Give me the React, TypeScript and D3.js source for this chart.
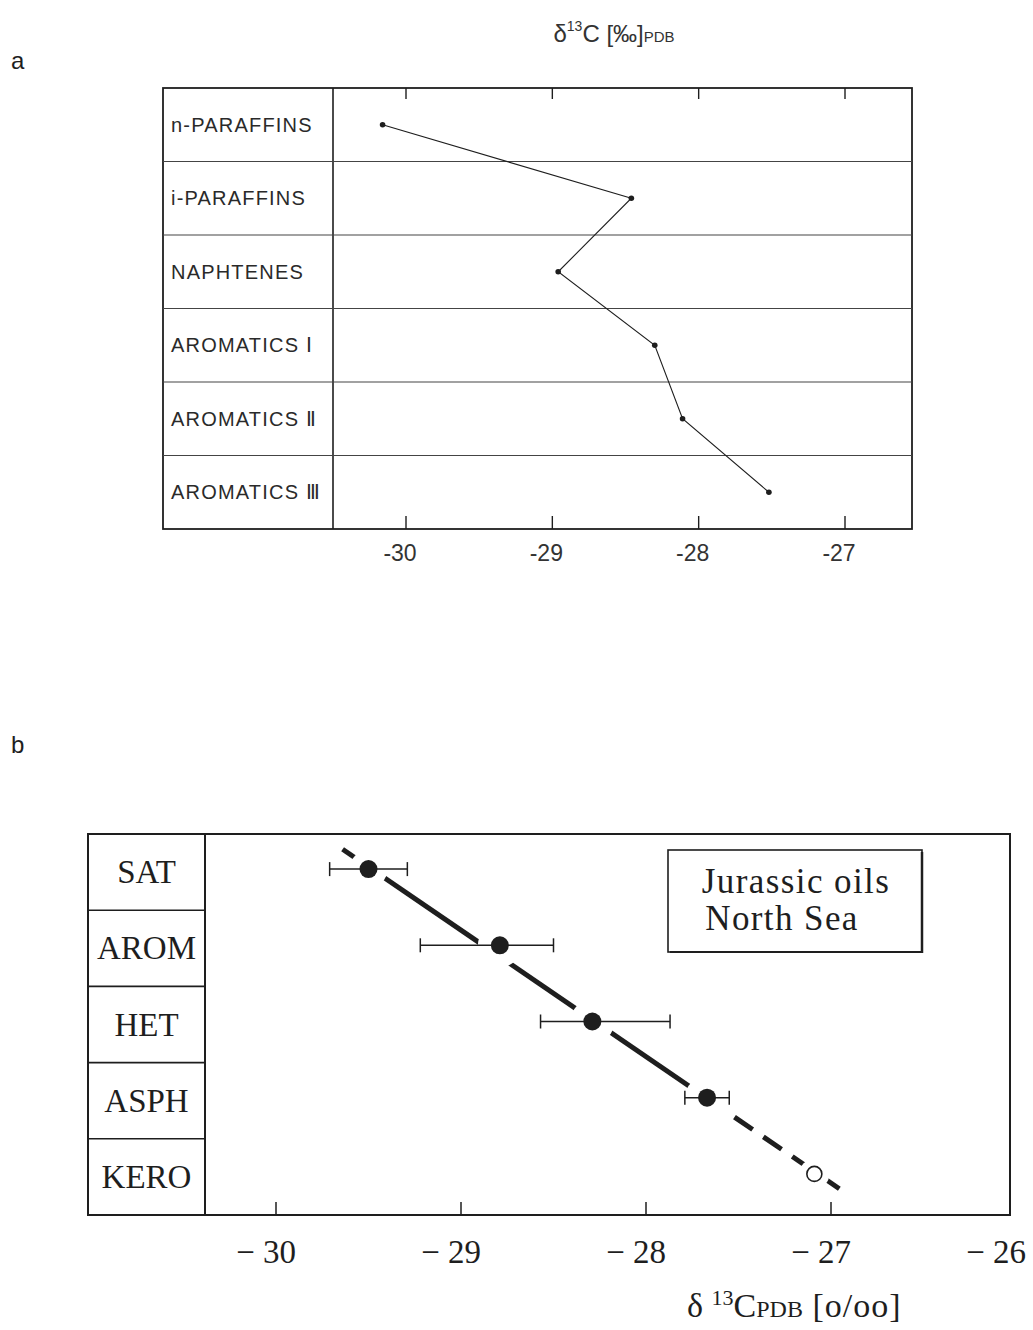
import React from 'react'
import * as d3 from 'd3'

// panel a: isotope composition of the oil fractions
const fractionsA = ['n-PARAFFINS', 'i-PARAFFINS', 'NAPHTENES', 'AROMATICS Ⅰ', 'AROMATICS Ⅱ', 'AROMATICS Ⅲ']
const deltaA = [-30.16, -28.46, -28.96, -28.3, -28.11, -27.52]
const ticksA = [-30, -29, -28, -27]

// panel b: Jurassic oils, North Sea
const fractionsB = ['SAT', 'AROM', 'HET', 'ASPH', 'KERO']
const meanB = [-29.5, -28.79, -28.29, -27.67, -27.09]
const lowB = [-29.71, -29.22, -28.57, -27.79, null]
const highB = [-29.29, -28.5, -27.87, -27.55, null]
const ticksB = [-30, -29, -28, -27, -26]
// trend line: start / end in delta, position in row units (0 = first row centre)
const trendDelta = [-29.64, -26.94]
const trendRow = [-0.3, 4.18]
const solidUntilRow = 3 // dashed after ASPH

const INK = '#1e1e1e'

function PanelA() {
  const left = 163, split = 333, right = 912, top = 88, bottom = 529
  const x = d3.scaleLinear().domain([-30, -27]).range([406, 845])
  const y = d3.scaleBand().domain(fractionsA).range([top, bottom])
  const line = d3
    .line<number>()
    .x(d => x(d))
    .y((d, i) => y(fractionsA[i])! + y.bandwidth() / 2)

  return (
    <g>
      <text x={11} y={69} fontFamily="Liberation Sans" fontSize={24} fill={INK}>a</text>
      <text x={614} y={42} textAnchor="middle" fontFamily="Liberation Sans" fontSize={24} fill="#333">
        δ<tspan fontSize={14} dy={-11}>13</tspan>
        <tspan dy={11}>C [‰]</tspan>
        <tspan fontSize={15}>PDB</tspan>
      </text>
      <rect x={left} y={top} width={right - left} height={bottom - top} fill="none" stroke={INK} strokeWidth={1.8} />
      <line x1={split} x2={split} y1={top} y2={bottom} stroke={INK} strokeWidth={1.6} />
      {fractionsA.slice(1).map(f => (
        <line key={f} x1={left} x2={right} y1={y(f)} y2={y(f)} stroke="#444" strokeWidth={1.1} />
      ))}
      {fractionsA.map(f => (
        <text
          key={f}
          x={171}
          y={y(f)! + y.bandwidth() / 2 + 7}
          fontFamily="Liberation Sans"
          fontSize={20}
          letterSpacing={1.2}
          fill="#2a2a2a"
        >
          {f}
        </text>
      ))}
      {ticksA.map(t => (
        <g key={t}>
          <line x1={x(t)} x2={x(t)} y1={top} y2={top + 11} stroke={INK} strokeWidth={1.4} />
          <line x1={x(t)} x2={x(t)} y1={bottom} y2={bottom - 13} stroke={INK} strokeWidth={1.4} />
          <text x={x(t) - 6} y={561} textAnchor="middle" fontFamily="Liberation Sans" fontSize={23} fill="#333">
            {'-' + Math.abs(t)}
          </text>
        </g>
      ))}
      <path d={line(deltaA) ?? ''} fill="none" stroke={INK} strokeWidth={1.1} />
      {deltaA.map((d, i) => (
        <circle key={i} cx={x(d)} cy={y(fractionsA[i])! + y.bandwidth() / 2} r={2.8} fill={INK} />
      ))}
    </g>
  )
}

function PanelB() {
  const left = 88, split = 205, right = 1010, top = 834, bottom = 1215
  const x = d3.scaleLinear().domain([-30, -26]).range([276, 1016])
  const y = d3.scaleBand().domain(fractionsB).range([top, bottom])
  const rowY = (r: number) => y(fractionsB[0])! + y.bandwidth() / 2 + r * y.bandwidth()
  const trendAt = (r: number) =>
    trendDelta[0] + ((r - trendRow[0]) / (trendRow[1] - trendRow[0])) * (trendDelta[1] - trendDelta[0])
  const cy = (i: number) => rowY(i) - 3

  return (
    <g>
      <text x={11} y={753} fontFamily="Liberation Sans" fontSize={24} fill={INK}>b</text>
      <rect x={left} y={top} width={right - left} height={bottom - top} fill="none" stroke={INK} strokeWidth={2} />
      <line x1={split} x2={split} y1={top} y2={bottom} stroke={INK} strokeWidth={2} />
      {fractionsB.slice(1).map(f => (
        <line key={f} x1={left} x2={split} y1={y(f)} y2={y(f)} stroke={INK} strokeWidth={1.6} />
      ))}
      {fractionsB.map(f => (
        <text
          key={f}
          x={(left + split) / 2}
          y={y(f)! + y.bandwidth() / 2 + 11}
          textAnchor="middle"
          fontFamily="Liberation Serif"
          fontSize={33}
          fill={INK}
        >
          {f}
        </text>
      ))}
      {ticksB.map(t => (
        <g key={t}>
          {x(t) < right && <line x1={x(t)} x2={x(t)} y1={bottom} y2={bottom - 13} stroke={INK} strokeWidth={1.5} />}
          <text
            x={Math.min(x(t) + 20, 1026)}
            y={1263}
            textAnchor="end"
            fontFamily="Liberation Serif"
            fontSize={33}
            fill={INK}
          >
            {'− ' + Math.abs(t)}
          </text>
        </g>
      ))}
      {/* trend line, solid then dashed */}
      <line
        x1={x(trendDelta[0])}
        y1={rowY(trendRow[0])}
        x2={x(trendAt(solidUntilRow))}
        y2={rowY(solidUntilRow)}
        stroke={INK}
        strokeWidth={5}
      />
      <line
        x1={x(trendAt(solidUntilRow))}
        y1={rowY(solidUntilRow)}
        x2={x(trendDelta[1])}
        y2={rowY(trendRow[1])}
        stroke={INK}
        strokeWidth={5}
        strokeDasharray="22,13"
        strokeDashoffset={6}
      />
      {/* white gaps around the points */}
      {meanB.map((m, i) => (
        <circle key={'h' + i} cx={x(m)} cy={cy(i)} r={i === 4 ? 15 : i === 0 ? 19 : 22} fill="#fff" />
      ))}
      {meanB.map((m, i) =>
        lowB[i] === null ? null : (
          <g key={'e' + i} stroke={INK} strokeWidth={1.5}>
            <line x1={x(lowB[i]!)} x2={x(highB[i]!)} y1={cy(i)} y2={cy(i)} />
            <line x1={x(lowB[i]!)} x2={x(lowB[i]!)} y1={cy(i) - 7} y2={cy(i) + 7} />
            <line x1={x(highB[i]!)} x2={x(highB[i]!)} y1={cy(i) - 7} y2={cy(i) + 7} />
          </g>
        )
      )}
      {meanB.map((m, i) =>
        i === 4 ? (
          <circle key={'p' + i} cx={x(m)} cy={cy(i)} r={7.5} fill="#fff" stroke={INK} strokeWidth={1.6} />
        ) : (
          <circle key={'p' + i} cx={x(m)} cy={cy(i)} r={9} fill={INK} />
        )
      )}
      {/* legend */}
      <rect x={668} y={850} width={254} height={102} fill="#fff" stroke={INK} strokeWidth={1.6} />
      <line x1={922} x2={922} y1={852} y2={953} stroke={INK} strokeWidth={2.5} />
      <line x1={670} x2={923} y1={952} y2={952} stroke={INK} strokeWidth={2.2} />
      <text x={796} y={893} textAnchor="middle" fontFamily="Liberation Serif" fontSize={35} letterSpacing={1.4} fill={INK}>
        Jurassic oils
      </text>
      <text x={782} y={930} textAnchor="middle" fontFamily="Liberation Serif" fontSize={35} letterSpacing={1.4} fill={INK}>
        North Sea
      </text>
      {/* axis title */}
      <text x={687} y={1317} fontFamily="Liberation Serif" fontSize={34} fill={INK}>
        δ <tspan fontSize={22} dy={-12}>13</tspan>
        <tspan dy={12}>C</tspan>
        <tspan fontSize={24}>PDB</tspan>
        <tspan letterSpacing={1}> [o/oo]</tspan>
      </text>
    </g>
  )
}

export default function App() {
  return (
    <div style={{ position: 'absolute', left: 0, top: 0 }}>
      <svg width={1033} height={1330} style={{ display: 'block', background: '#fff' }}>
        <PanelA />
        <PanelB />
      </svg>
    </div>
  )
}
